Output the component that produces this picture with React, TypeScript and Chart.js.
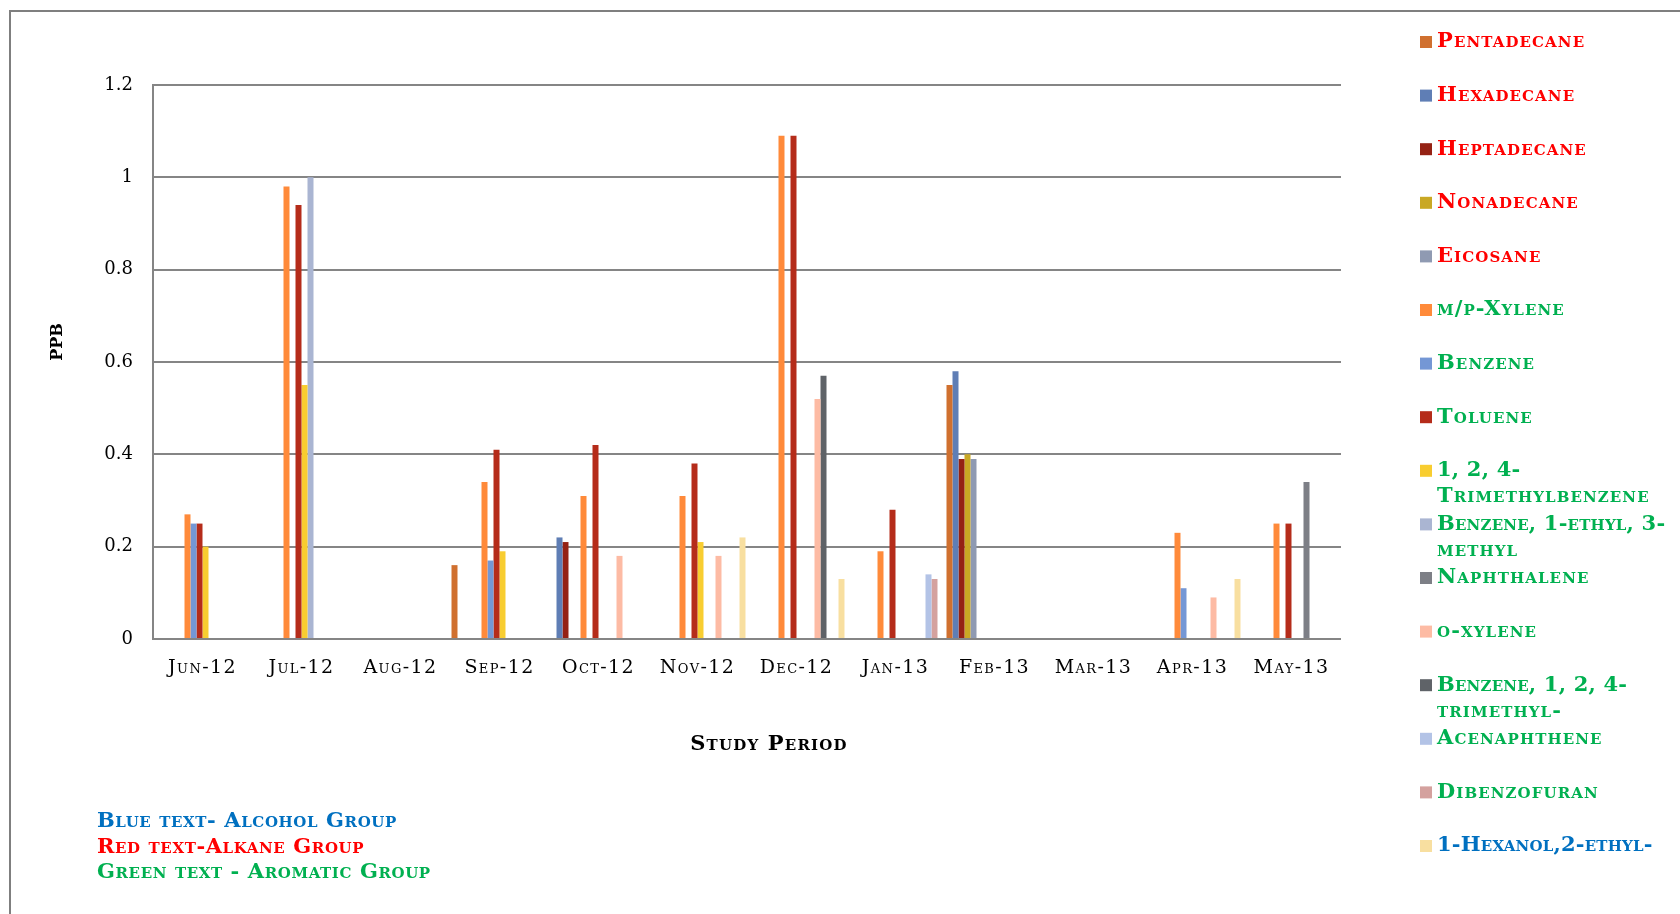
import { useEffect, useRef } from "react";
import { Chart, registerables } from "chart.js";

Chart.register(...registerables);

// ---------- data ----------
const categories = ["Jun-12", "Jul-12", "Aug-12", "Sep-12", "Oct-12", "Nov-12", "Dec-12", "Jan-13", "Feb-13", "Mar-13", "Apr-13", "May-13"];
const yTickValues = [0, 0.2, 0.4, 0.6, 0.8, 1, 1.2];

const pentadecane = [null, null, null, 0.16, null, null, null, null, 0.55, null, null, null];
const hexadecane = [null, null, null, null, 0.22, null, null, null, 0.58, null, null, null];
const heptadecane = [null, null, null, null, 0.21, null, null, null, 0.39, null, null, null];
const nonadecane = [null, null, null, null, null, null, null, null, 0.40, null, null, null];
const eicosane = [null, null, null, null, null, null, null, null, 0.39, null, null, null];
const mpXylene = [0.27, 0.98, null, 0.34, 0.31, 0.31, 1.09, 0.19, null, null, 0.23, 0.25];
const benzene = [0.25, null, null, 0.17, null, null, null, null, null, null, 0.11, null];
const toluene = [0.25, 0.94, null, 0.41, 0.42, 0.38, 1.09, 0.28, null, null, null, 0.25];
const trimethylbenzene = [0.20, 0.55, null, 0.19, null, 0.21, null, null, null, null, null, null];
const ethylMethylBenzene = [null, 1.0, null, null, null, null, null, null, null, null, null, null];
const naphthalene = [null, null, null, null, null, null, null, null, null, null, null, 0.34];
const oXylene = [null, null, null, null, 0.18, 0.18, 0.52, null, null, null, 0.09, null];
const benzeneTrimethyl = [null, null, null, null, null, null, 0.57, null, null, null, null, null];
const acenaphthene = [null, null, null, null, null, null, null, 0.14, null, null, null, null];
const dibenzofuran = [null, null, null, null, null, null, null, 0.13, null, null, null, null];
const hexanolEthyl = [null, null, null, null, null, 0.22, 0.13, null, null, null, 0.13, null];

const seriesValues = [
  pentadecane, hexadecane, heptadecane, nonadecane, eicosane, mpXylene, benzene, toluene,
  trimethylbenzene, ethylMethylBenzene, naphthalene, oXylene, benzeneTrimethyl, acenaphthene, dibenzofuran, hexanolEthyl,
];

const seriesLabels = [
  ["Pentadecane"],
  ["Hexadecane"],
  ["Heptadecane"],
  ["Nonadecane"],
  ["Eicosane"],
  ["m/p-Xylene"],
  ["Benzene"],
  ["Toluene"],
  ["1, 2, 4-", "Trimethylbenzene"],
  ["Benzene, 1-ethyl, 3-", "methyl"],
  ["Naphthalene"],
  ["o-xylene"],
  ["Benzene, 1, 2, 4-", "trimethyl-"],
  ["Acenaphthene"],
  ["Dibenzofuran"],
  ["1-Hexanol,2-ethyl-"],
];

const seriesGroups = [
  "alkane", "alkane", "alkane", "alkane", "alkane",
  "aromatic", "aromatic", "aromatic", "aromatic", "aromatic", "aromatic", "aromatic", "aromatic", "aromatic", "aromatic",
  "alcohol",
];

const seriesColors = [
  "#D0702F", "#5F7EB5", "#952214", "#C9A824", "#8F9AB2", "#FF8A3A", "#7497D5", "#B52C1A",
  "#F8CD30", "#AAB5D2", "#7D7F86", "#FDBBA4", "#5F6368", "#B3C3E6", "#D4A19E", "#F8DFA0",
];

const groupColors: Record<string, string> = { alcohol: "#0070C0", alkane: "#FF0000", aromatic: "#00B050" };

const noteLines = [
  { text: "Blue text- Alcohol Group", group: "alcohol" },
  { text: "Red text-Alkane Group", group: "alkane" },
  { text: "Green text - Aromatic Group", group: "aromatic" },
];

const xTitle = "Study Period";
const yTitle = "PPB";

const SERIF = "'DejaVu Serif', serif";

function setSpacing(ctx: any, v: string) {
  if ("letterSpacing" in ctx) ctx.letterSpacing = v;
}

const overlayPlugin = {
  id: "overlay",
  afterDraw(chart: any) {
    const ctx = chart.ctx as CanvasRenderingContext2D;
    const area = chart.chartArea;
    ctx.save();

    // legend
    const legendX = 1420;
    chart.data.datasets.forEach((ds: any, i: number) => {
      const y = 42 + i * 53.6;
      ctx.fillStyle = ds.backgroundColor;
      ctx.fillRect(legendX, y - 6, 12, 12);
      ctx.font = `small-caps bold 21px ${SERIF}`;
      ctx.fillStyle = groupColors[seriesGroups[i]];
      ctx.textAlign = "left";
      ctx.textBaseline = "middle";
      seriesLabels[i].forEach((line, j) => {
        setSpacing(ctx, /\d/.test(line) ? "0.2px" : "1.1px");
        ctx.fillText(line, legendX + 17, y + j * 26);
      });
    });

    // axis titles
    ctx.fillStyle = "#000";
    ctx.font = `small-caps bold 21px ${SERIF}`;
    setSpacing(ctx, "1.2px");
    ctx.textAlign = "center";
    ctx.textBaseline = "middle";
    ctx.fillText(xTitle, (area.left + area.right) / 2 + 22, 745);

    setSpacing(ctx, "0px");
    ctx.save();
    ctx.translate(58, 342);
    ctx.rotate(-Math.PI / 2);
    ctx.font = `bold 16px ${SERIF}`;
    ctx.fillText(yTitle, 0, 0);
    ctx.restore();

    // group notes
    ctx.textAlign = "left";
    ctx.font = `small-caps bold 21px ${SERIF}`;
    setSpacing(ctx, "0.6px");
    noteLines.forEach((n, k) => {
      ctx.fillStyle = groupColors[n.group];
      ctx.fillText(n.text, 97, 822 + k * 25.5);
    });
    setSpacing(ctx, "0px");
    ctx.restore();
  },
};

export default function App() {
  const canvasRef = useRef<HTMLCanvasElement | null>(null);

  useEffect(() => {
    const canvas = canvasRef.current;
    if (!canvas) return;
    const chart = new Chart(canvas, {
      type: "bar",
      data: {
        labels: categories,
        datasets: seriesValues.map((vals, i) => ({
          label: seriesLabels[i].join(" "),
          data: vals,
          backgroundColor: seriesColors[i],
          borderWidth: 0,
          barPercentage: 1,
          categoryPercentage: 96 / 99,
        })),
      },
      options: {
        responsive: false,
        animation: false,
        layout: { padding: { top: 85, right: 339, left: 0, bottom: 0 } },
        plugins: { legend: { display: false }, tooltip: { enabled: false }, title: { display: false } },
        scales: {
          x: {
            grid: { display: false, drawTicks: false },
            border: { display: false },
            ticks: {
              color: "#000",
              padding: 18,
              maxRotation: 0,
              autoSkip: false,
              font: { family: SERIF, size: 19, weight: "small-caps" as any },
            },
            afterFit: (s: any) => {
              s.height = 275;
              if (!s.__spaced) {
                const orig = s.drawLabels;
                s.drawLabels = function (a: any) {
                  setSpacing(this.ctx, "1.4px");
                  orig.call(this, a);
                  setSpacing(this.ctx, "0px");
                };
                s.__spaced = true;
              }
            },
          },
          y: {
            min: 0,
            max: 1.2,
            afterBuildTicks: (s: any) => {
              s.ticks = yTickValues.map((v) => ({ value: v }));
            },
            ticks: {
              color: "#000",
              padding: 20,
              font: { family: SERIF, size: 18 },
              callback: (v: any) => String(Number(Number(v).toFixed(1))),
            },
            grid: { color: "#858585", lineWidth: 2, drawTicks: false },
            border: { color: "#858585", width: 2 },
            afterFit: (s: any) => {
              s.width = 153;
            },
          },
        },
      },
      plugins: [overlayPlugin],
    });
    return () => chart.destroy();
  }, []);

  return (
    <div style={{ position: "fixed", left: 0, top: 0, width: 1680, height: 914, background: "#fff", overflow: "hidden" }}>
      <div
        style={{
          position: "absolute",
          left: 9,
          top: 10,
          width: 1700,
          height: 940,
          borderLeft: "2px solid #7f7f7f",
          borderTop: "2px solid #7f7f7f",
        }}
      />
      <canvas ref={canvasRef} width={1680} height={914} style={{ position: "absolute", left: 0, top: 0, width: 1680, height: 914 }} />
    </div>
  );
}
